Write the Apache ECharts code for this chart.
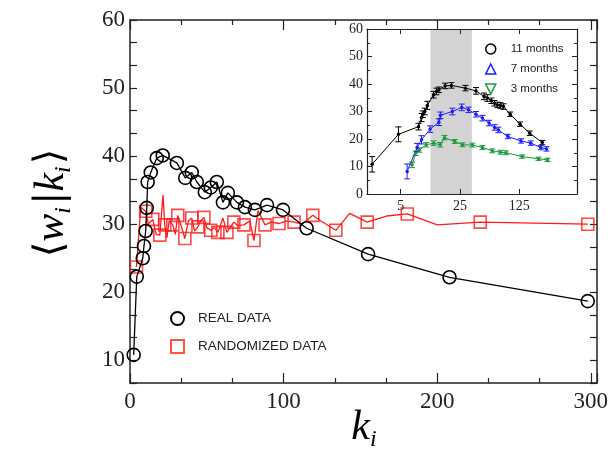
<!DOCTYPE html>
<html>
<head>
<meta charset="utf-8">
<script src="https://cdn.jsdelivr.net/npm/echarts@6/dist/echarts.min.js"></script>
<style>
  html, body { margin: 0; padding: 0; background: #fff; }
  #chart { width: 616px; height: 450px; }
</style>
</head>
<body>
<div id="chart"></div>
<script>
// main plot: real data (circles)
var realK = [2.4, 4.4, 8.3, 9.1, 10.2, 10.9, 11.5, 13.5, 17.4, 21.3, 30.5, 36, 40.2, 43.5, 48.7, 52.6, 56.5, 60.5, 63.7, 69.6, 74.8, 81.3, 89.2, 99.6, 115, 155, 208, 298];
var realV = [10.8, 22.3, 25.0, 26.8, 29.0, 32.4, 36.2, 37.6, 39.7, 40.1, 39.0, 36.8, 37.6, 36.2, 34.7, 35.4, 36.2, 33.2, 34.6, 33.2, 32.5, 32.1, 32.8, 32.1, 29.4, 25.6, 22.2, 18.7];
// main plot: randomized data (squares) and the red line through all its points
var randK = [4.2, 10.2, 14.8, 19.4, 22.6, 27.9, 31.1, 35.7, 40.2, 44.2, 48.1, 52.6, 57.2, 63.1, 67.6, 74.2, 80.7, 87.9, 97, 106.8, 119, 134, 154.4, 180.5, 228, 298];
var randV = [23.7, 31.9, 30.7, 28.4, 29.9, 29.9, 31.3, 27.9, 30.9, 29.6, 31.0, 29.1, 28.8, 28.8, 30.3, 29.9, 27.6, 29.9, 30.1, 30.3, 31.3, 29.1, 30.3, 31.5, 30.3, 30.0];
var randLineK = [4.2, 7, 10.2, 12, 14.8, 17, 19.4, 21.5, 22.6, 24, 25.5, 27.9, 29.5, 31.1, 33, 35.7, 38, 40.2, 42, 44.2, 46, 48.1, 50, 52.6, 55, 57.2, 60.5, 63.1, 67.6, 70, 74.2, 78, 80.7, 83.3, 87.9, 92, 97, 102, 106.8, 112, 119, 124, 134, 143, 154.4, 167, 180.5, 200, 228, 298];
var randLineV = [23.7, 32.5, 31.9, 30.0, 30.7, 28.5, 28.4, 34.3, 29.9, 28.0, 30.5, 29.9, 28.5, 31.3, 30.0, 27.9, 30.5, 30.9, 29.0, 29.6, 30.5, 31.0, 29.5, 29.1, 29.5, 28.8, 30.9, 28.8, 30.3, 29.8, 29.9, 30.5, 27.6, 32.0, 29.9, 30.3, 30.1, 30.5, 30.3, 30.0, 31.3, 30.5, 29.1, 31.6, 30.3, 31.2, 31.5, 29.9, 30.3, 30.0];

// inset: three periods, with error bars
var m11K = [2.3, 4.7, 8.1, 8.8, 9.1, 9.6, 10.3, 12.2, 13.2, 14.1, 16.7, 19.8, 29, 38.6, 48, 52.5, 58.6, 63.8, 69, 75, 81.5, 97.6, 127.8, 166, 234];
var m11V = [10.8, 21.7, 24.5, 27.8, 29.0, 30.0, 32.2, 36.1, 37.3, 37.9, 39.3, 39.5, 38.5, 37.5, 35.5, 34.9, 33.9, 33.0, 32.4, 32.2, 31.8, 29.0, 25.4, 22.1, 18.7];
var m11E = [2.8, 2.7, 1.2, 1.5, 1.2, 1.2, 1.5, 1.2, 1.2, 1.0, 1.0, 1.0, 1.0, 1.2, 1.2, 1.2, 1.0, 1.0, 1.0, 1.0, 1.0, 0.8, 0.8, 0.8, 0.8];
var m7K = [5.95, 7.8, 8.8, 11.1, 14.1, 14.7, 20.3, 26.2, 31.5, 38.6, 46, 55, 64, 71, 91.6, 131, 171, 224, 262];
var m7V = [8.2, 16.9, 19.7, 23.6, 26.1, 28.6, 30.0, 31.5, 30.6, 29.0, 27.6, 25.8, 24.2, 23.3, 20.9, 19.3, 18.5, 16.9, 16.4];
var m7E = [2.7, 1.5, 1.5, 1.2, 1.2, 1.2, 1.2, 1.2, 1.0, 1.0, 1.0, 1.0, 1.0, 1.0, 0.8, 0.8, 0.8, 0.8, 0.8];
var m3K = [6.8, 7.5, 8.3, 10, 12.2, 14.6, 16.4, 21.7, 26.7, 35, 46, 60, 75, 87, 135, 211, 269];
var m3V = [10.6, 14.8, 16.0, 17.9, 18.5, 17.9, 20.5, 19.1, 17.9, 17.8, 16.9, 15.7, 15.2, 15.0, 13.6, 12.8, 12.4];
var m3E = [1.0, 0.8, 0.8, 0.8, 0.8, 0.8, 0.8, 0.7, 0.7, 0.7, 0.7, 0.7, 0.7, 0.7, 0.6, 0.6, 0.6];
var shadeK = [11.2, 34.5];

var xTicks = [0, 100, 200, 300];
var yTicks = [10, 20, 30, 40, 50, 60];
var insetXTicks = [5, 25, 125];

var serif = "'Liberation Serif', 'DejaVu Serif', serif";
var sans = "'Liberation Sans', Arial, sans-serif";
var green = "#1a9a3a", blue = "#1a1aff", red = "#ff1a1a";

function pairs(a, b) {
  return a.map(function (v, i) { return [v, b[i]]; });
}
function triples(a, b, c) {
  return a.map(function (v, i) { return [v, b[i], c[i]]; });
}
function errBars(color) {
  return function (params, api) {
    var x = api.value(0), y = api.value(1), e = api.value(2);
    var top = api.coord([x, y + e]), bot = api.coord([x, y - e]);
    var w = 3;
    var st = { stroke: color, lineWidth: 1 };
    return {
      type: "group",
      children: [
        { type: "line", shape: { x1: top[0], y1: top[1], x2: bot[0], y2: bot[1] }, style: st },
        { type: "line", shape: { x1: top[0] - w, y1: top[1], x2: top[0] + w, y2: top[1] }, style: st },
        { type: "line", shape: { x1: bot[0] - w, y1: bot[1], x2: bot[0] + w, y2: bot[1] }, style: st }
      ]
    };
  };
}

var axisColor = "#222";
function frameAxis(extra) {
  var base = {
    axisLine: { show: true, onZero: false, lineStyle: { color: axisColor, width: 1.5 } },
    axisTick: { show: true, inside: true, length: 7, lineStyle: { color: axisColor, width: 1.2 } },
    axisLabel: { show: false },
    splitLine: { show: false }
  };
  return Object.assign(base, extra);
}
function insetAxis(extra) {
  return frameAxis(Object.assign({
    gridIndex: 1, z: 6,
    axisLine: { show: true, onZero: false, lineStyle: { color: axisColor, width: 1.2 } },
    axisTick: { show: true, inside: true, length: 5, lineStyle: { color: axisColor, width: 1 } }
  }, extra));
}

var chart = echarts.init(document.getElementById("chart"));

var mainY = { type: "value", min: 20 / 3, max: 60, interval: 10 / 3 };
var mainX = {
  type: "value", min: 0, max: 304, interval: 100,
  minorTick: { show: true, splitNumber: 3, length: 5, lineStyle: { color: axisColor, width: 1.2 } }
};
var insetX = { type: "log", logBase: 5, min: 2, max: 600 };
var insetY = {
  type: "value", min: 0, max: 60, interval: 10,
  minorTick: { show: true, splitNumber: 2, length: 3, lineStyle: { color: axisColor, width: 1 } }
};

var option = {
  animation: false,
  backgroundColor: "#fff",
  grid: [
    { left: 130, top: 20, width: 467, height: 363 },
    { left: 367, top: 29, width: 210, height: 165, show: true, backgroundColor: "#fff", borderWidth: 0 }
  ],
  xAxis: [
    frameAxis(Object.assign({}, mainX, {
      gridIndex: 0, position: "bottom",
      axisTick: { show: true, inside: true, length: 10, lineStyle: { color: axisColor, width: 1.2 } },
      axisLabel: {
        show: true, margin: 7, color: "#222", fontFamily: serif, fontSize: 23, showMaxLabel: false,
        formatter: function (v) { var r = Math.round(v); return xTicks.indexOf(r) >= 0 && Math.abs(v - r) < 0.01 ? String(r) : ""; }
      }
    })),
    frameAxis(Object.assign({}, mainX, {
      gridIndex: 0, position: "top",
      axisTick: { show: true, inside: true, length: 10, lineStyle: { color: axisColor, width: 1.2 } }
    })),
    insetAxis(Object.assign({}, insetX, {
      position: "bottom",
      axisLabel: {
        show: true, margin: 5, color: "#222", fontFamily: serif, fontSize: 14,
        formatter: function (v) { var r = Math.round(v); return insetXTicks.indexOf(r) >= 0 && Math.abs(v - r) < 0.01 ? String(r) : ""; }
      }
    })),
    insetAxis(Object.assign({}, insetX, { position: "top" }))
  ],
  yAxis: [
    frameAxis(Object.assign({}, mainY, {
      gridIndex: 0, position: "left",
      axisLabel: {
        show: true, margin: 5, color: "#222", fontFamily: serif, fontSize: 23,
        formatter: function (v) { var r = Math.round(v); return Math.abs(v - r) < 0.01 && yTicks.indexOf(r) >= 0 ? String(r) : ""; }
      }
    })),
    frameAxis(Object.assign({}, mainY, { gridIndex: 0, position: "right" })),
    insetAxis(Object.assign({}, insetY, {
      position: "left",
      axisLabel: { show: true, margin: 4, color: "#222", fontFamily: serif, fontSize: 14 }
    })),
    insetAxis(Object.assign({}, insetY, { position: "right" }))
  ],
  legend: [
    {
      orient: "vertical", left: 165, top: 306, itemWidth: 13, itemHeight: 13, itemGap: 13,
      selectedMode: false,
      textStyle: { fontFamily: sans, fontSize: 13.5, color: "#222", padding: [0, 0, 0, 9] },
      data: [
        { name: "REAL DATA", icon: "circle", itemStyle: { color: "rgba(0,0,0,0)", borderColor: "#000", borderWidth: 2 } },
        { name: "RANDOMIZED DATA", icon: "rect", itemStyle: { color: "rgba(0,0,0,0)", borderColor: "#ff2a00", borderWidth: 2 } }
      ]
    },
    {
      orient: "vertical", left: 480, top: 38, itemWidth: 10, itemHeight: 10, itemGap: 8, z: 8,
      selectedMode: false,
      textStyle: { fontFamily: sans, fontSize: 11.5, color: "#222", padding: [0, 0, 0, 10] },
      data: [
        { name: "11 months", icon: "circle", itemStyle: { color: "rgba(0,0,0,0)", borderColor: "#000", borderWidth: 1.5 } },
        { name: "7 months", icon: "triangle", itemStyle: { color: "rgba(0,0,0,0)", borderColor: blue, borderWidth: 1.5 } },
        { name: "3 months", icon: "path://M0,0L10,0L5,10Z", itemStyle: { color: "rgba(0,0,0,0)", borderColor: green, borderWidth: 1.5 } }
      ]
    }
  ],
  graphic: [
    {
      type: "text", x: 52, y: 203, rotation: Math.PI / 2,
      style: {
        text: "{b|⟨}{m|w}{s|i}{b||}{m|k}{s|i}{b|⟩}",
        align: "center", verticalAlign: "middle", fill: "#000",
        rich: {
          b: { fontFamily: "'DejaVu Serif', serif", fontSize: 40, lineHeight: 48 },
          m: { fontFamily: serif, fontStyle: "italic", fontSize: 42, lineHeight: 48 },
          s: { fontFamily: serif, fontStyle: "italic", fontSize: 24, lineHeight: 48, verticalAlign: "bottom", padding: [0, 2, 0, 0] }
        }
      }
    },
    {
      type: "text", x: 364, y: 428,
      style: {
        text: "{m|k}{s|i}",
        align: "center", verticalAlign: "middle", fill: "#000",
        rich: {
          m: { fontFamily: serif, fontStyle: "italic", fontSize: 42, lineHeight: 48 },
          s: { fontFamily: serif, fontStyle: "italic", fontSize: 24, lineHeight: 48, verticalAlign: "bottom" }
        }
      }
    }
  ],
  series: [
    {
      name: "RANDOMIZED line", type: "line", xAxisIndex: 0, yAxisIndex: 0,
      data: pairs(randLineK, randLineV), showSymbol: false,
      lineStyle: { color: red, width: 1.3 }, z: 2
    },
    {
      name: "RANDOMIZED DATA", type: "scatter", xAxisIndex: 0, yAxisIndex: 0,
      data: pairs(randK, randV), symbol: "rect", symbolSize: 12,
      itemStyle: { color: "rgba(0,0,0,0)", borderColor: red, borderWidth: 1.6 }, z: 3
    },
    {
      name: "REAL DATA", type: "line", xAxisIndex: 0, yAxisIndex: 0,
      data: pairs(realK, realV), symbol: "circle", symbolSize: 13, showAllSymbol: true,
      lineStyle: { color: "#000", width: 1.3 },
      itemStyle: { color: "rgba(0,0,0,0)", borderColor: "#000", borderWidth: 1.6 }, z: 4
    },
    {
      name: "3 months", type: "line", xAxisIndex: 2, yAxisIndex: 2,
      data: pairs(m3K, m3V), symbol: "circle", symbolSize: 3.5, showAllSymbol: true,
      lineStyle: { color: green, width: 1 }, itemStyle: { color: green }, z: 7,
      markArea: {
        silent: true, z: 1, itemStyle: { color: "#d3d3d3" },
        data: [[{ xAxis: shadeK[0] }, { xAxis: shadeK[1] }]]
      }
    },
    {
      type: "custom", xAxisIndex: 2, yAxisIndex: 2, data: triples(m3K, m3V, m3E),
      renderItem: errBars(green), encode: { x: 0, y: 1 }, z: 7
    },
    {
      name: "7 months", type: "line", xAxisIndex: 2, yAxisIndex: 2,
      data: pairs(m7K, m7V), symbol: "circle", symbolSize: 3.5, showAllSymbol: true,
      lineStyle: { color: blue, width: 1 }, itemStyle: { color: blue }, z: 7
    },
    {
      type: "custom", xAxisIndex: 2, yAxisIndex: 2, data: triples(m7K, m7V, m7E),
      renderItem: errBars(blue), encode: { x: 0, y: 1 }, z: 7
    },
    {
      name: "11 months", type: "line", xAxisIndex: 2, yAxisIndex: 2,
      data: pairs(m11K, m11V), symbol: "circle", symbolSize: 3.5, showAllSymbol: true,
      lineStyle: { color: "#000", width: 1 }, itemStyle: { color: "#000" }, z: 7
    },
    {
      type: "custom", xAxisIndex: 2, yAxisIndex: 2, data: triples(m11K, m11V, m11E),
      renderItem: errBars("#000"), encode: { x: 0, y: 1 }, z: 7
    }
  ]
};

chart.setOption(option);
window.addEventListener("resize", chart.resize);
</script>
</body>
</html>
